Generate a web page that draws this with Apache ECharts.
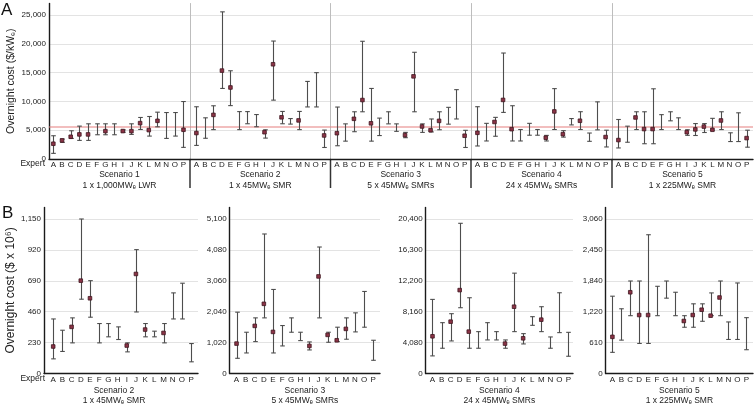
<!DOCTYPE html>
<html><head><meta charset="utf-8">
<script src="https://cdn.jsdelivr.net/npm/echarts@6/dist/echarts.min.js"></script>
<style>html,body{margin:0;padding:0;background:#fff}#c{width:756px;height:407px}</style>
</head><body><div id="c"></div>
<script>
// ---------- DATA ----------
const expertLetters = ['A','B','C','D','E','F','G','H','I','J','K','L','M','N','O','P'];

// Panel A: overnight cost ($/kWe), 16 experts per scenario
const s1Low  = [980, 2880, 3575, 3230, 3230, 4210, 4210, 4210, 4650, 4270, 5130, 3980, 5590, 3575, 3980, 2020];
const s1High = [4037, 3460, 4900, 5710, 6110, 6110, 6110, 6110, 5050, 6110, 7210, 7380, 8130, 8070, 8070, 9980];
const s1Med  = [2650, 3230, 3860, 4270, 4270, null, 4840, null, 4850, 4840, 6230, 5020, 6630, null, null, 5075];

const s2Low  = [2360, 3600, 5100, 12250, 9270, 5100, 6120, 5600, 3630, 10220, 6120, 6060, 5100, 9040, 9040, 2000];
const s2High = [9070, 7150, 9240, 25550, 15320, 8230, 8230, 7720, 5070, 20480, 8260, 7020, 8260, 13470, 14990, 5020];
const s2Med  = [4510, null, 7660, 15350, 12420, null, null, null, 4650, 16450, 7240, null, 6700, null, null, 4090];

const s3Low  = [2300, 3100, 4740, 8200, 3100, 4070, 6100, 4800, 3700, 8200, 4620, 4700, 5080, 6050, 6950, 2000];
const s3High = [9020, 6100, 8200, 20440, 12250, 7100, 8200, 6100, 4620, 18530, 6100, 6950, 8200, 8970, 12040, 4980];
const s3Med  = [4480, null, 6980, 10240, 6200, null, null, null, 4150, 14350, 5650, 5000, 6620, null, null, 4040];

const s4Low  = [2260, 3130, 3950, 8090, 3130, 3130, 4130, 4130, 3130, 5120, 3800, 5920, 5120, 3070, 5060, 2090];
const s4High = [9080, 6190, 7230, 18400, 9250, 5120, 6190, 5120, 4100, 12220, 4920, 7020, 8210, 4510, 9920, 5000];
const s4Med  = [4550, null, 6430, 10260, 5180, null, null, null, 3700, 8260, 4310, null, 6640, null, null, 3810];

const s5Low  = [1920, 2910, 5110, 2650, 2650, 5110, 6630, 5110, 4110, 4080, 4600, 5000, 5110, 3030, 3030, 2050];
const s5High = [6860, 5700, 8200, 8200, 12190, 7700, 8200, 7150, 5080, 6150, 6150, 7060, 8200, 4550, 8020, 5000];
const s5Med  = [3290, null, 7210, 5200, 5200, null, null, null, 4650, 5140, 5630, 5075, 6690, null, null, 3630];

const referenceCost = 5550;

// Panel B: overnight cost ($ x 10^6)
const b2Low  = [109, 164, 228, 553, 419, 228, 273, 253, 161, 458, 273, 273, 228, 406, 406, 87];
const b2High = [406, 322, 414, 1150, 691, 372, 372, 347, 228, 922, 372, 315, 372, 600, 672, 223];
const b2Med  = [201, null, 347, 691, 560, null, null, null, 208, 741, 327, null, 302, null, null, null];

const b3Low  = [502, 678, 1053, 1836, 678, 910, 1362, 1086, 778, 1836, 1031, 1053, 1131, 1373, 1528, 436];
const b3High = [2024, 1362, 1836, 4605, 2774, 1583, 1836, 1362, 1042, 4175, 1362, 1528, 1836, 2002, 2708, 1097];
const b3Med  = [987, null, 1572, 2300, 1373, null, null, null, 910, 3204, 1274, 1097, 1473, null, null, null];

const b4Low  = [2325, 3334, 4299, 8686, 3334, 3334, 4431, 4431, 3334, 5528, 3904, 6361, 5528, 3334, 5396, 2277];
const b4High = [9783, 6712, 7897, 19830, 10002, 5528, 6712, 5528, 4431, 13249, 5264, 7502, 8818, 4826, 10660, 5435];
const b4Med  = [4913, null, 6844, 11011, 5528, null, null, null, 3948, 8818, 4650, null, 7107, null, null, null];

const b5Low  = [419, 661, 1145, 595, 595, 1145, 1492, 1145, 916, 916, 1034, 1145, 1145, 674, 674, 471];
const b5High = [1531, 1282, 1832, 1832, 2748, 1727, 1832, 1609, 1145, 1380, 1380, 1596, 1832, 1021, 1793, 1106];
const b5Med  = [726, null, 1609, 1158, 1158, null, null, null, 1040, 1158, 1263, 1145, 1505, null, null, null];

const scenarioTitles = ['Scenario 1','Scenario 2','Scenario 3','Scenario 4','Scenario 5'];
const scenarioSubs   = ['1 x 1,000MWₑ LWR','1 x 45MWₑ SMR','5 x 45MWₑ SMRs','24 x 45MWₑ SMRs','1 x 225MWₑ SMR'];

const topTickLabels = ['0','5,000','10,000','15,000','20,000','25,000'];
const b2TickLabels = ['0','230','460','690','920','1,150'];
const b3TickLabels = ['0','1,020','2,040','3,060','4,080','5,100'];
const b4TickLabels = ['0','4,080','8,160','12,200','16,300','20,400'];
const b5TickLabels = ['0','610','1,220','1,840','2,450','3,060'];

// ---------- LAYOUT ----------
const FONT = 'Liberation Sans, Arial, Helvetica, sans-serif';
const topLefts = [49, 190, 330.5, 471, 612], topRightEdge = 753.5;
const topY0 = 159, topYTop = 3.5;
const topMin = [0.5, 0.25, 0.25, 0.25, 0.25];
const botLefts = [44, 229.7, 425.7, 605.7], botRights = [198, 380, 573, 754];
const botMin = [0, 0.25, 0.25, 0.25], botMax = [16.75, 16.75, 16.5, 16.75];
const botY0 = 374, botYTop = 207.4;

const topSets = [[s1Low,s1High,s1Med],[s2Low,s2High,s2Med],[s3Low,s3High,s3Med],[s4Low,s4High,s4Med],[s5Low,s5High,s5Med]];
const botSets = [[b2Low,b2High,b2Med,b2TickLabels],[b3Low,b3High,b3Med,b3TickLabels],[b4Low,b4High,b4Med,b4TickLabels],[b5Low,b5High,b5Med,b5TickLabels]];

const barData = (lo, hi) => lo.map((l, i) => [i + 1, l, hi[i]]);
const medData = (m) => m.map((v, i) => v == null ? null : [i + 1, v]).filter(Boolean);
const letterFmt = (v) => { const r = Math.round(v); return (Math.abs(v - r) < 1e-6 && r >= 1 && r <= 16) ? expertLetters[r - 1] : ''; };

function renderBar(params, api) {
  const x = api.value(0);
  const p1 = api.coord([x, api.value(1)]);
  const p2 = api.coord([x, api.value(2)]);
  const cx = Math.round(p1[0]) + 0.5, cw = 2.3;
  const st = { stroke: '#4d4d4d', lineWidth: 1.1 };
  return { type: 'group', children: [
    { type: 'line', shape: { x1: cx, y1: p1[1], x2: cx, y2: p2[1] }, style: st },
    { type: 'line', shape: { x1: cx - cw, y1: p1[1], x2: cx + cw, y2: p1[1] }, style: st },
    { type: 'line', shape: { x1: cx - cw, y1: p2[1], x2: cx + cw, y2: p2[1] }, style: st }
  ]};
}

const grid = [], xAxis = [], yAxis = [], series = [];
const axisDark = { show: true, lineStyle: { color: '#1a1a1a', width: 1.4 } };
const splitLight = { show: true, showMaxLine: false, lineStyle: { color: '#e3e3e3', width: 1 } };
const labelStyle = { fontFamily: FONT, fontSize: 8, color: '#222' };
const markerStyle = { color: '#8b3346', borderColor: '#3f1620', borderWidth: 0.8, opacity: 1 };

// Top panel grids
for (let k = 0; k < 5; k++) {
  const left = topLefts[k];
  const right = k < 4 ? topLefts[k + 1] : topRightEdge;
  grid.push({ left: left, width: right - left, top: topYTop, height: topY0 - topYTop });
  xAxis.push({
    gridIndex: k, type: 'value', min: topMin[k], max: 16.75, interval: 0.25,
    axisLine: axisDark, axisTick: { show: false }, splitLine: { show: false },
    axisLabel: Object.assign({ margin: 2, formatter: letterFmt, showMinLabel: true, showMaxLabel: true }, labelStyle),
    name: scenarioTitles[k] + '\n' + scenarioSubs[k], nameLocation: 'middle', nameGap: 9.5,
    nameTextStyle: { fontFamily: FONT, fontSize: 8.5, color: '#222', lineHeight: 10.5 }
  });
  yAxis.push({
    gridIndex: k, type: 'value', min: 0, max: 27000, interval: 5000,
    axisLine: k === 0 ? axisDark : { show: true, lineStyle: { color: '#bdbdbd', width: 1 } },
    axisTick: { show: false }, splitLine: splitLight,
    axisLabel: Object.assign({ show: k === 0, margin: 3, showMaxLabel: false,
      formatter: (v) => topTickLabels[Math.round(v / 5000)] || '' }, labelStyle),
    name: k === 0 ? 'Overnight cost ($/kWₑ)' : '', nameLocation: 'middle', nameRotate: 90, nameGap: 32,
    nameTextStyle: { fontFamily: FONT, fontSize: 10.5, color: '#222' }
  });
  const [lo, hi, md] = topSets[k];
  // reference line drawn through a line series on the same axes
  series.push({
    type: 'line', xAxisIndex: k, yAxisIndex: k, data: [[topMin[k], referenceCost], [16.75, referenceCost]],
    symbol: 'none', silent: true, z: 2, lineStyle: { color: '#e57f7f', width: 1.1 }
  });
  series.push({
    type: 'custom', xAxisIndex: k, yAxisIndex: k, renderItem: renderBar, data: barData(lo, hi),
    encode: { x: 0, y: [1, 2] }, z: 3, silent: true
  });
  series.push({
    type: 'scatter', xAxisIndex: k, yAxisIndex: k, symbol: 'rect', symbolSize: 3.6, z: 4, silent: true,
    itemStyle: markerStyle, data: medData(md)
  });
}

// Bottom panel grids
for (let j = 0; j < 4; j++) {
  const gi = 5 + j;
  const [lo, hi, md, ticks] = botSets[j];
  const interval = Number(ticks[5].replace(/,/g, '')) / 5;
  grid.push({ left: botLefts[j], width: botRights[j] - botLefts[j], top: botYTop, height: botY0 - botYTop });
  xAxis.push({
    gridIndex: gi, type: 'value', min: botMin[j], max: botMax[j], interval: 0.25,
    axisLine: axisDark, axisTick: { show: false }, splitLine: { show: false },
    axisLabel: Object.assign({ margin: 2, formatter: letterFmt }, labelStyle),
    name: scenarioTitles[j + 1] + '\n' + scenarioSubs[j + 1], nameLocation: 'middle', nameGap: 12.5,
    nameTextStyle: { fontFamily: FONT, fontSize: 8.5, color: '#222', lineHeight: 10, padding: j === 0 ? [0, 14, 0, 0] : 0 }
  });
  yAxis.push({
    gridIndex: gi, type: 'value', min: 0, max: interval * 5.375, interval: interval,
    axisLine: axisDark, axisTick: { show: false }, splitLine: splitLight,
    axisLabel: Object.assign({ margin: 3, showMaxLabel: false,
      formatter: (v) => ticks[Math.round(v / interval)] || '' }, labelStyle),
    name: j === 0 ? 'Overnight cost ($ x 10⁶)' : '', nameLocation: 'middle', nameRotate: 90, nameGap: 26,
    nameTextStyle: { fontFamily: FONT, fontSize: 12, color: '#222' }
  });
  series.push({
    type: 'custom', xAxisIndex: gi, yAxisIndex: gi, renderItem: renderBar, data: barData(lo, hi),
    encode: { x: 0, y: [1, 2] }, z: 3, silent: true
  });
  series.push({
    type: 'scatter', xAxisIndex: gi, yAxisIndex: gi, symbol: 'rect', symbolSize: 3.6, z: 4, silent: true,
    itemStyle: markerStyle, data: medData(md)
  });
}

// Decorations: panel letters, "Expert" labels, scenario separators below axis
const graphic = [
  { type: 'text', left: 1, top: 2, style: { text: 'A', font: '17px ' + FONT, fill: '#111' } },
  { type: 'text', left: 2, top: 205, style: { text: 'B', font: '17px ' + FONT, fill: '#111' } },
  { type: 'text', x: 45, y: 164, style: { text: 'Expert', font: '8.5px ' + FONT, fill: '#222', align: 'right', verticalAlign: 'middle' } },
  { type: 'text', x: 45, y: 379, style: { text: 'Expert', font: '8.5px ' + FONT, fill: '#222', align: 'right', verticalAlign: 'middle' } }
];
for (let k = 1; k < 5; k++) {
  graphic.push({ type: 'line', shape: { x1: topLefts[k], y1: topY0, x2: topLefts[k], y2: 188 },
    style: { stroke: '#333', lineWidth: 1.5 } });
}

const chart = echarts.init(document.getElementById('c'), null, { renderer: 'canvas' });
chart.setOption({ animation: false, backgroundColor: '#fff', grid, xAxis, yAxis, series, graphic });
</script></body></html>
